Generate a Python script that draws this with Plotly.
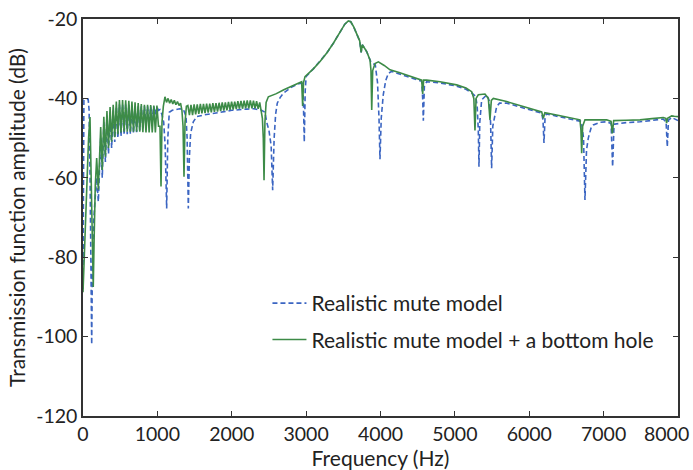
import plotly.graph_objects as go

# ---------------- data ----------------
green_f = [0, 20, 40, 58, 75, 94, 105, 120, 138, 150, 165, 184, 206,
           238, 259, 280, 301, 322, 343, 364, 385, 406, 427, 448, 469, 490, 511,
           532, 553, 574, 595, 616, 637, 658, 679, 700, 721, 742, 763, 784, 805,
           826, 847, 868, 889, 910, 931, 952, 973, 994, 1015, 1035, 1049, 1062, 1080,
           1102, 1123, 1144, 1165, 1186, 1207, 1228, 1249, 1270, 1291, 1312, 1330, 1345,
           1358, 1372, 1390,
           1410, 1431, 1452, 1473, 1494, 1515, 1536, 1557, 1578, 1599, 1620, 1641, 1662,
           1683, 1704, 1725, 1746, 1767, 1788, 1809, 1830, 1851, 1872, 1893, 1914, 1935,
           1956, 1977, 1998, 2019, 2040, 2061, 2082, 2103, 2124, 2145, 2166, 2187, 2208,
           2229, 2250, 2271, 2292, 2313, 2334, 2355, 2376, 2397, 2412, 2424, 2434, 2446,
           2462, 2492, 2600, 2700, 2800, 2900, 2940, 2953, 2965, 2985, 3100, 3187, 3280,
           3366, 3450, 3520, 3567, 3600, 3640, 3680, 3720, 3740, 3755, 3790, 3814, 3859,
           3872, 3882, 3895, 3926, 3971, 4050, 4128, 4250, 4352, 4450, 4554, 4567, 4580,
           4620, 4800, 5024, 5150, 5226, 5255, 5270, 5285, 5315, 5405, 5450, 5472, 5490,
           5517, 5696, 5920, 6167, 6189, 6210, 6400, 6593, 6682, 6695, 6705, 6718, 6749,
           7041, 7100, 7117, 7135, 7300, 7489, 7650, 7802, 7835, 7847, 7860, 7915, 7950,
           8000]
green_db = [-88.8, -78, -68.9, -58.8, -50, -44.7, -55, -75, -87.5, -75, -62, -55, -63,
            -47.2, -58, -44.6, -54.7, -43.2, -52.5, -42.2, -50.9, -41.6, -49.8, -40.8, -49.0, -40.4, -48.6,
            -40.4, -48.4, -40.5, -48.4, -40.6, -48.4, -40.8, -48.4, -41.0, -48.4, -41.2, -48.4, -41.4, -48.5,
            -41.6, -48.6, -41.6, -48.6, -41.7, -48.6, -41.8, -48.6, -41.8, -47.0, -47.0, -62.2, -46, -42,
            -39.6, -41.0, -40.0, -41.2, -40.3, -41.4, -40.5, -41.6, -40.8, -41.8, -41.2, -43, -47,
            -59.7, -46, -42,
            -41.8, -44.2, -41.6, -44.2, -41.5, -44.0, -41.5, -43.9, -41.4, -43.8, -41.4, -43.7, -41.3,
            -43.6, -41.3, -43.5, -41.2, -43.4, -41.2, -43.3, -41.1, -43.2, -41.0, -43.1, -41.0, -43.0,
            -40.9, -42.9, -40.8, -42.8, -40.8, -42.7, -40.7, -42.6, -40.6, -42.6, -40.6, -42.5, -40.5,
            -42.5, -40.5, -42.5, -40.6, -42.5, -40.7, -42.6, -41.0, -43.0, -45, -50, -60.6, -46,
            -41, -39.6, -38.8, -37.8, -37.0, -36.2, -35.8, -41.9, -36.0, -34.5, -32.5, -30.7, -28.5,
            -26.1, -23.5, -21.3, -20.5, -20.7, -22.0, -23.8, -25.5, -28.4, -26.5, -27.5, -28.2, -30.3,
            -33, -42.9, -33, -31.2, -30.8, -31.7, -32.8, -33.5, -34.1, -34.8, -35.4, -38.9, -35.4,
            -35.4, -35.8, -36.6, -37.4, -38.3, -40, -48.1, -40, -39.1, -38.9, -40, -45.4, -40.5,
            -40.0, -40.8, -42.1, -43.4, -45.0, -43.6, -44.3, -45.0, -45.4, -48, -53.8, -47, -45.4,
            -45.4, -45.8, -48.8, -45.6, -45.5, -45.4, -45.1, -44.8, -45.0, -46.2, -45.0, -44.4, -44.5,
            -44.6]

blue_f = [0, 6, 12, 70, 82, 95, 110, 117, 125, 140, 160, 184, 206,
          238, 259, 280, 301, 322, 343, 364, 385, 406, 427, 448, 469, 490, 511,
          532, 553, 574, 595, 616, 637, 658, 679, 700, 721, 742, 763, 784, 805,
          826, 847, 868, 889, 910, 931, 952, 973, 994, 1015, 1035, 1060, 1085, 1105,
          1125, 1140, 1160, 1200, 1250, 1300, 1350, 1385, 1400, 1416, 1430, 1447, 1483,
          1528, 1618, 1800, 2000, 2200, 2300, 2400, 2447, 2470, 2500, 2530, 2550, 2570,
          2590, 2612, 2650, 2693, 2800, 2900, 2950, 2962, 2975, 2988, 3000, 3100, 3187,
          3280, 3366, 3450, 3520, 3567, 3600, 3640, 3680, 3720, 3740, 3755, 3790, 3814,
          3859, 3870, 3930, 3960, 3980, 3993, 4010, 4037, 4070, 4105, 4150, 4250, 4352,
          4450, 4554, 4567, 4576, 4590, 4620, 4800, 5024, 5150, 5226, 5280, 5300, 5315,
          5324, 5335, 5360, 5427, 5460, 5480, 5494, 5510, 5561, 5600, 5700, 5920, 6167,
          6185, 6198, 6212, 6230, 6400, 6593, 6700, 6730, 6749, 6770, 6794, 6830, 6861,
          6950, 7041, 7100, 7121, 7140, 7300, 7489, 7650, 7802, 7840, 7856, 7872, 7915,
          8000]
blue_db = [-88, -62, -40.4, -40.2, -43, -60, -90, -102, -85, -72, -66, -60, -66,
           -50, -60, -46, -56, -44.5, -54, -43.5, -52.5, -43, -51, -42, -50, -41.5, -49.5,
           -41.5, -49.2, -41.5, -49.0, -41.6, -49.0, -41.8, -48.8, -42.0, -48.5, -42.0, -48.0, -42.0, -47.5,
           -42.0, -47.0, -42.0, -46.0, -42.0, -45.0, -42.0, -44.0, -42.2, -43.0, -42.8, -44.0, -46.0, -52.0,
           -67.7, -50.0, -43.5, -43.0, -42.8, -42.6, -42.8, -44.5, -50.0, -67.7, -55.0, -48.8, -45.9,
           -44.6, -44.2, -43.6, -43.0, -42.7, -42.6, -43.0, -43.5, -46.0, -48.0, -52.0, -63.1, -50.0,
           -44.0, -41.2, -39.8, -38.7, -37.2, -36.3, -36.2, -40.0, -51.0, -38.0, -34.5, -32.5, -30.7,
           -28.5, -26.1, -23.5, -21.3, -20.5, -20.7, -22.0, -23.8, -25.5, -28.4, -26.5, -27.5, -28.2,
           -30.3, -30.8, -31.6, -36.0, -45.0, -55.3, -45.0, -39.1, -35.5, -33.7, -33.2, -33.8, -34.4,
           -35.1, -35.7, -40.0, -45.6, -37.0, -35.8, -36.1, -36.9, -37.7, -38.6, -39.5, -42.0, -48.0,
           -57.2, -46.0, -40.4, -39.1, -40.5, -46.0, -57.6, -47.0, -42.1, -41.2, -41.2, -42.4, -43.7,
           -45.5, -51.2, -45.0, -43.9, -44.6, -45.3, -45.8, -50.0, -65.6, -53.0, -50.0, -47.5, -46.7,
           -46.0, -45.9, -46.3, -57.2, -46.5, -46.1, -45.9, -45.5, -45.2, -46.0, -52.2, -45.5, -44.8,
           -45.6]

series_names = ["Realistic mute model", "Realistic mute model + a bottom hole"]
x_ticks = [0, 1000, 2000, 3000, 4000, 5000, 6000, 7000, 8000]
y_ticks = [-120, -100, -80, -60, -40, -20]

FONT = "Lato"
BLUE = "#3B65C2"
GREEN = "#3D8B47"
TICKFONT = dict(family=FONT, size=19.5, color="#222222")

fig = go.Figure()
fig.add_trace(go.Scatter(x=blue_f, y=blue_db, mode="lines", name=series_names[0],
                         legendgroup="a",
                         line=dict(color=BLUE, width=1.6, dash="5px,3px")))
fig.add_trace(go.Scatter(x=green_f, y=green_db, mode="lines", name=series_names[1],
                         legendgroup="b",
                         line=dict(color=GREEN, width=1.6)))

axis_common = dict(showline=True, linecolor="#333333", linewidth=1.5, mirror="ticks",
                   ticks="inside", ticklen=5, tickwidth=1.2, tickcolor="#333333",
                   showgrid=False, zeroline=False,
                   automargin=False, tickfont=TICKFONT)

# last x tick label is nudged left (as in the reference) so it stays inside the page
x_ticktext = [str(v) for v in x_ticks[:-1]] + [""]

fig.update_layout(
    width=693, height=470,
    margin=dict(l=83, r=15, t=19, b=54, autoexpand=False),
    paper_bgcolor="white", plot_bgcolor="white",
    font=dict(family=FONT, size=19.5, color="#222222"),
    xaxis=dict(range=[0, 8000], tickvals=x_ticks, ticktext=x_ticktext,
               title=dict(text="Frequency (Hz)", font=dict(family=FONT, size=21), standoff=8),
               **axis_common),
    yaxis=dict(range=[-120, -20], tickvals=y_ticks, ticktext=[str(v) for v in y_ticks],
               title=dict(text="Transmission function amplitude (dB)", font=dict(family=FONT, size=21), standoff=5),
               **axis_common),
    showlegend=True,
    legend=dict(x=0.31, y=0.335, xanchor="left", yanchor="top", bgcolor="rgba(0,0,0,0)",
                font=dict(family=FONT, size=21, color="#222222"),
                traceorder="grouped", tracegroupgap=6, itemwidth=34),
    annotations=[dict(x=x_ticks[-1], y=0, xref="x", yref="paper", text=str(x_ticks[-1]),
                      showarrow=False, xanchor="right", yanchor="middle",
                      xshift=13, yshift=-17, font=TICKFONT)],
)

fig.write_html("out.html")
